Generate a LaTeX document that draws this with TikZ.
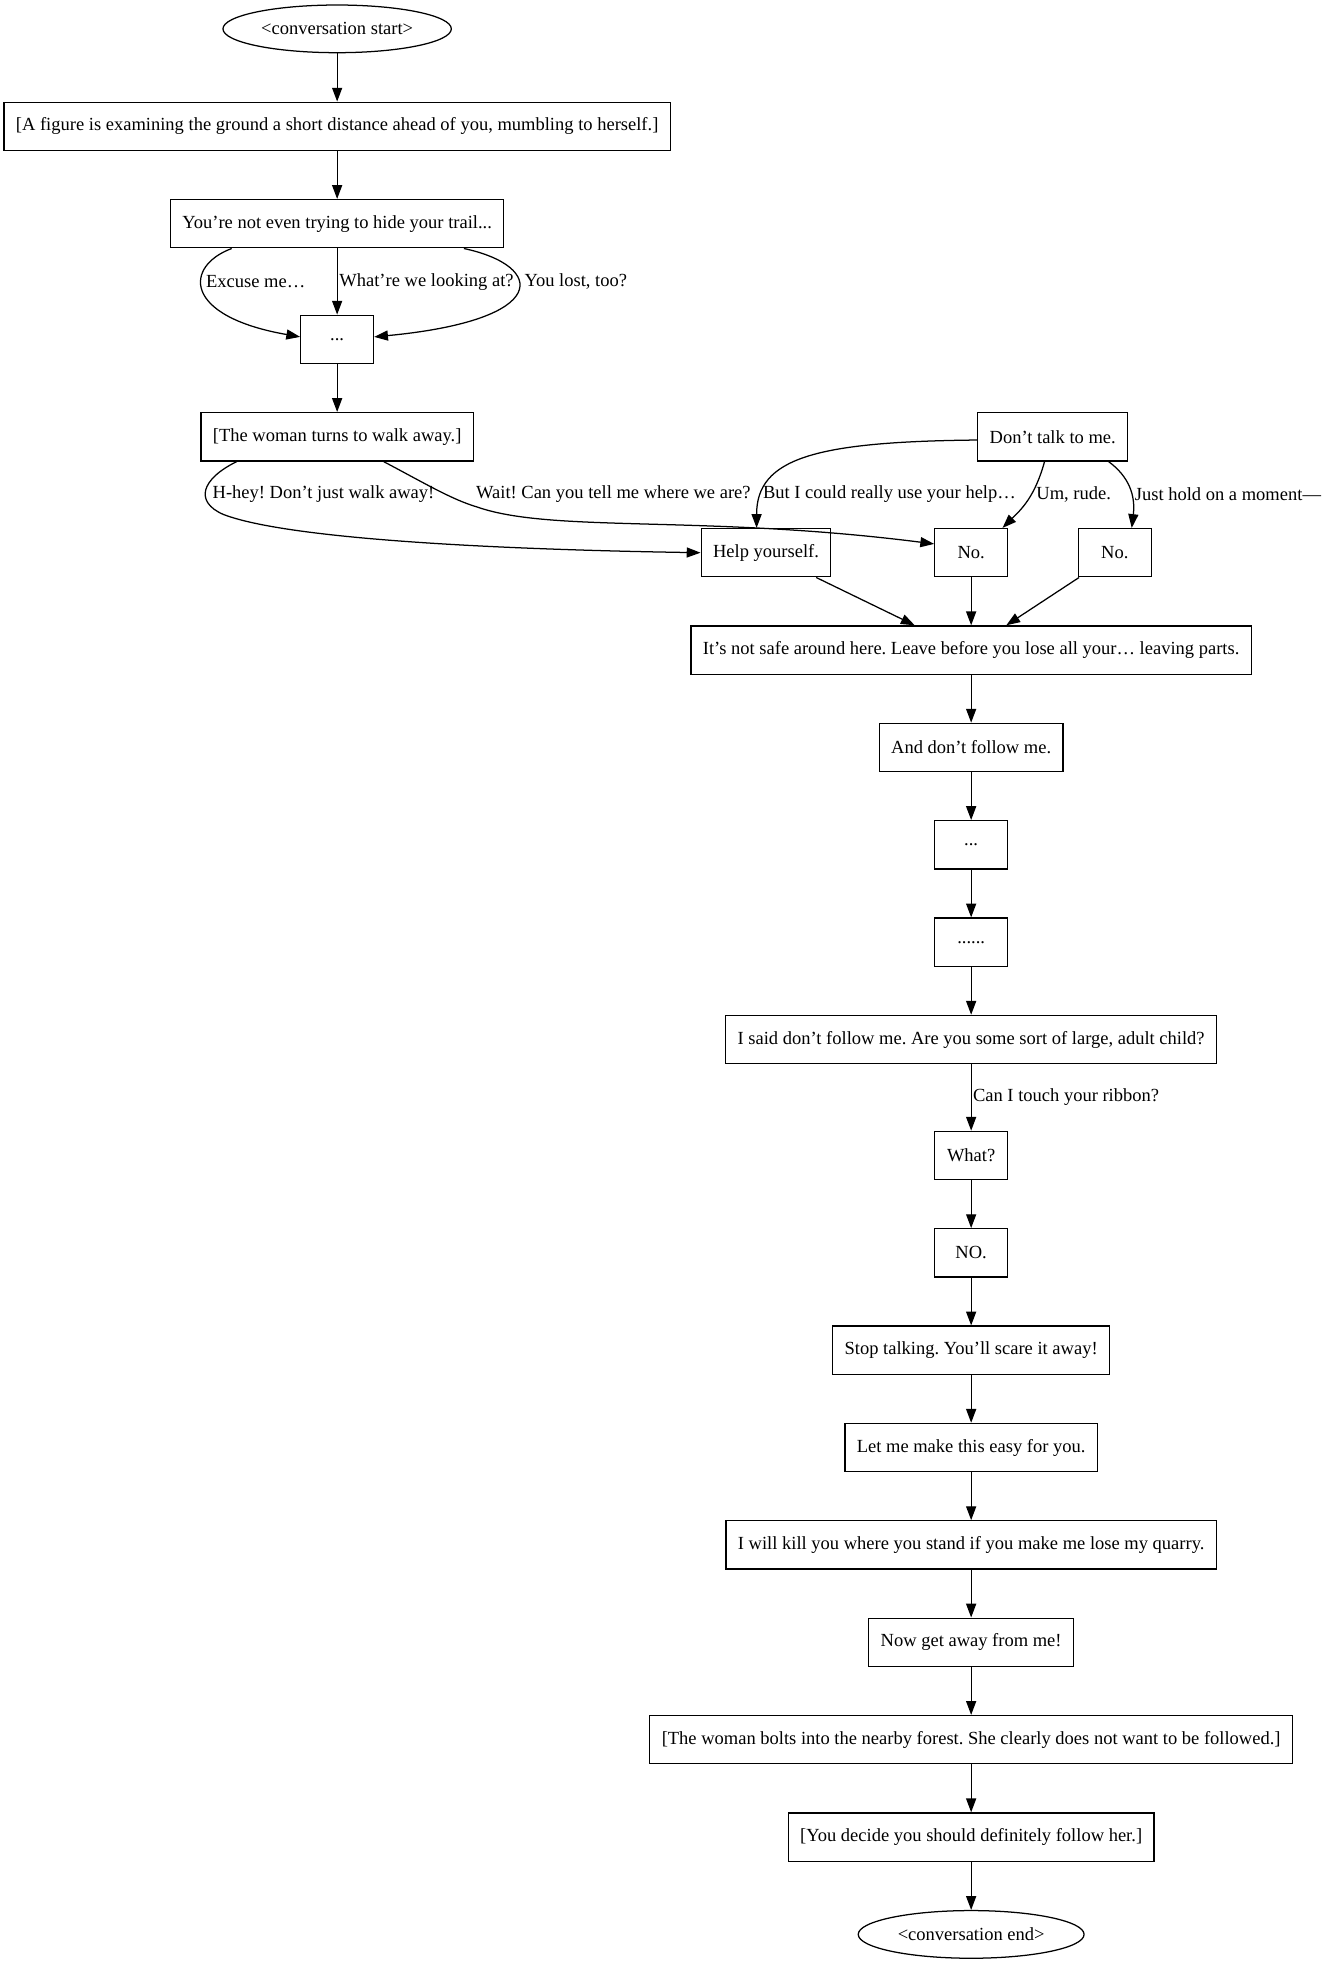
\documentclass[tikz,border=0pt]{standalone}
\usepackage{fontspec}
\setmainfont{Liberation Serif}
\usetikzlibrary{arrows.meta,shapes.geometric}
\frenchspacing

\tikzset{
    tbox/.style={draw, rectangle, minimum height=38.5bp, minimum width=58bp,
        inner xsep=9.5bp, font=\fontsize{14.75bp}{18bp}\selectfont},
    tend/.style={draw, ellipse, minimum height=38bp, inner sep=0pt,
        font=\fontsize{14.75bp}{18bp}\selectfont},
    lbl/.style={anchor=west, inner sep=0pt, font=\fontsize{14.75bp}{18bp}\selectfont},
    >={Triangle[length=11bp,width=8bp]}
}

\begin{document}
\begin{tikzpicture}[x=1bp, y=-1bp, line width=1bp]
        \useasboundingbox (0,0) rectangle (1056,1565.3);
        % left column
        \node[tend, minimum width=182bp] (start) at (268.7,23) {<conversation start>};
        \node[tbox] (fig) at (268.7,100.7) {[A figure is examining the ground a short distance ahead of you, mumbling to herself.]};
        \node[tbox] (trail) at (268.7,178.3) {You’re not even trying to hide your trail...};
        \node[tbox] (dotsa) at (268.7,270.5) {...};
        \node[tbox] (woman) at (268.7,348.1) {[The woman turns to walk away.]};
        % right column
        \node[tbox] (dont) at (839,348.1) {Don’t talk to me.};
        \node[tbox] (help) at (610.5,440.5) {Help yourself.};
        \node[tbox] (noa) at (774,440.5) {No.};
        \node[tbox] (nob) at (888.5,440.5) {No.};
        \node[tbox] (safe) at (774,518.1) {It’s not safe around here. Leave before you lose all your… leaving parts.};
        \node[tbox] (follow) at (774,595.7) {And don’t follow me.};
        \node[tbox] (dotsb) at (774,673.3) {...};
        \node[tbox] (dotsc) at (774,750.9) {......};
        \node[tbox] (said) at (774,828.5) {I said don’t follow me. Are you some sort of large, adult child?};
        \node[tbox] (what) at (774,920.9) {What?};
        \node[tbox] (no) at (774,998.5) {NO.};
        \node[tbox] (stop) at (774,1076.1) {Stop talking. You’ll scare it away!};
        \node[tbox] (easy) at (774,1153.7) {Let me make this easy for you.};
        \node[tbox] (kill) at (774,1231.3) {I will kill you where you stand if you make me lose my quarry.};
        \node[tbox] (away) at (774,1308.9) {Now get away from me!};
        \node[tbox] (bolts) at (774,1386.5) {[The woman bolts into the nearby forest. She clearly does not want to be followed.]};
        \node[tbox] (decide) at (774,1464.1) {[You decide you should definitely follow her.]};
        \node[tend, minimum width=180bp] (end) at (774,1541.7) {<conversation end>};

        \foreach \a/\b in {start/fig,fig/trail,dotsa/woman,noa/safe,safe/follow,
            follow/dotsb,dotsb/dotsc,dotsc/said,what/no,no/stop,stop/easy,
            easy/kill,kill/away,away/bolts,bolts/decide,decide/end}
        \draw[->] (\a) -- (\b);

        % choices
        \draw[->] (trail) -- (dotsa);
        \draw[->] ([xshift=-84bp]trail.south) .. controls (147,212) and (145,252) .. ([yshift=2bp]dotsa.west);
        \draw[->] ([xshift=101bp]trail.south) .. controls (435,212) and (440,255) .. ([yshift=2bp]dotsa.east);
        \draw[->] ([xshift=-80bp]woman.south) .. controls (160,382) and (155,400) .. (178,410)
            .. controls (230,430) and (400,438) .. (help.west);
        \draw[->] ([xshift=37bp]woman.south) .. controls (340,386) and (360,398) .. (380,404)
            .. controls (440,425) and (560,410) .. ([yshift=7bp]noa.west);
        \draw[->] ([yshift=-2.6bp]dont.west) .. controls (650,352) and (603,365) .. ([xshift=-7.5bp]help.north);
        \draw[->] ([xshift=-6.5bp]dont.south) .. controls (825,395) and (815,405) .. ([xshift=25bp]noa.north);
        \draw[->] ([xshift=44.5bp]dont.south) .. controls (900,380) and (905,395) .. ([xshift=13.5bp]nob.north);
        \draw[->] ([xshift=40bp]help.south) -- ([xshift=-45bp]safe.north);
        \draw[->] ([xshift=-28.5bp]nob.south) -- ([xshift=28bp]safe.north);
        \draw[->] (said) -- (what);

        \node[lbl] (cExcuse) at (163.8,224.5) {Excuse me…};
        \node[lbl] (cLooking) at (270,224.5) {What’re we looking at?};
        \node[lbl] (cLost) at (417.6,224.5) {You lost, too?};
        \node[lbl] (cHey) at (169,394) {H-hey! Don’t just walk away!};
        \node[lbl] (cWait) at (379,394) {Wait! Can you tell me where we are?};
        \node[lbl] (cHelp) at (607.6,394) {But I could really use your help…};
        \node[lbl] (cRude) at (825.5,394) {Um, rude.};
        \node[lbl] (cHold) at (904,394) {Just hold on a moment—};
        \node[lbl] (cRibbon) at (775,874) {Can I touch your ribbon?};
    \end{tikzpicture}
\end{document}
